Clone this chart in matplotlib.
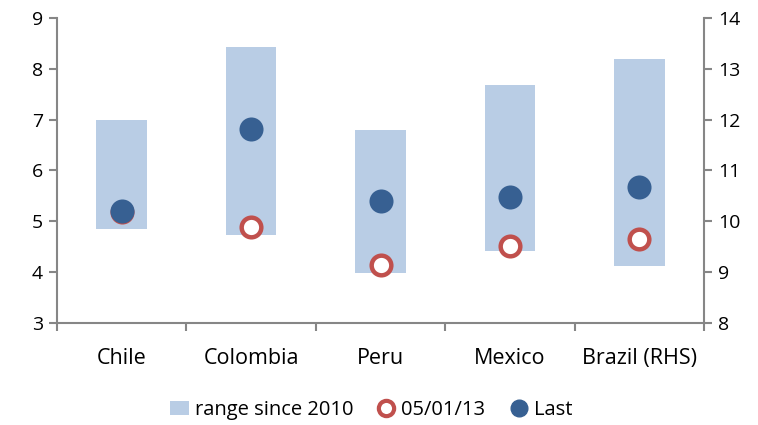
import numpy as np
import matplotlib.pyplot as plt
from matplotlib.lines import Line2D
from matplotlib.patches import Patch

plt.rcParams['font.family'] = ['Open Sans', 'DejaVu Sans']

countries = ["Chile", "Colombia", "Peru", "Mexico", "Brazil (RHS)"]
range_low = [4.85, 4.73, 3.98, 4.42, 9.12]
range_high = [7.00, 8.43, 6.80, 7.68, 13.19]
jan13 = [5.18, 4.89, 4.15, 4.52, 9.65]
last = [5.20, 6.81, 5.40, 5.47, 10.68]

bar_col = "#B9CDE5"
ring_col = "#C0504D"
dot_col = "#376092"
grey = "#868686"

fig = plt.figure(figsize=(7.58, 4.25), dpi=100)
ax = fig.add_axes([0.075, 0.24, 0.854, 0.718])
ax2 = ax.twinx()

x = np.arange(len(countries))
n_left = 4  # first four on the left axis, Brazil on the right

for axis, idx in ((ax, range(n_left)), (ax2, range(n_left, len(countries)))):
    idx = list(idx)
    lo = np.array([range_low[i] for i in idx])
    hi = np.array([range_high[i] for i in idx])
    axis.bar(x[idx], hi - lo, bottom=lo, width=0.39, color=bar_col, zorder=1)
    axis.scatter(x[idx], [jan13[i] for i in idx], s=200, facecolor="white",
                 edgecolor=ring_col, linewidth=3.2, zorder=3)
    axis.scatter(x[idx], [last[i] for i in idx], s=300, color=dot_col,
                 linewidth=0, zorder=4)

ax.set_ylim(3, 9)
ax2.set_ylim(8, 14)
ax.set_xlim(-0.5, len(countries) - 0.5)

ax.set_xticks(x)
ax.set_xticklabels(countries)
ax.set_xticks(np.arange(-0.5, len(countries), 1), minor=True)
ax.tick_params(axis='x', which='major', length=0, pad=18, labelsize=15.5)
ax.tick_params(axis='x', which='minor', length=6, color=grey, width=1.5)
ax.tick_params(axis='y', length=6, color=grey, width=1.5, labelsize=14, pad=4)
ax2.tick_params(axis='y', length=6, color=grey, width=1.5, labelsize=14, pad=4)

for a in (ax, ax2):
    a.spines['top'].set_visible(False)
    for s in ('left', 'right', 'bottom'):
        a.spines[s].set_color(grey)
        a.spines[s].set_linewidth(1.5)
ax.spines['right'].set_visible(False)
ax2.spines['left'].set_visible(False)
ax2.spines['bottom'].set_visible(False)

handles = [
    Patch(facecolor=bar_col, edgecolor='none', label="range since 2010"),
    Line2D([], [], marker='o', linestyle='none', markerfacecolor='white',
           markeredgecolor=ring_col, markeredgewidth=3, markersize=11,
           label="05/01/13"),
    Line2D([], [], marker='o', linestyle='none', color=dot_col,
           markersize=12, label="Last"),
]
fig.legend(handles=handles, loc='center', bbox_to_anchor=(0.49, 0.035),
           ncol=3, frameon=False, fontsize=14.5, handlelength=0.9,
           handletextpad=0.3, columnspacing=1.2)

fig.savefig("out.png", dpi=100)
